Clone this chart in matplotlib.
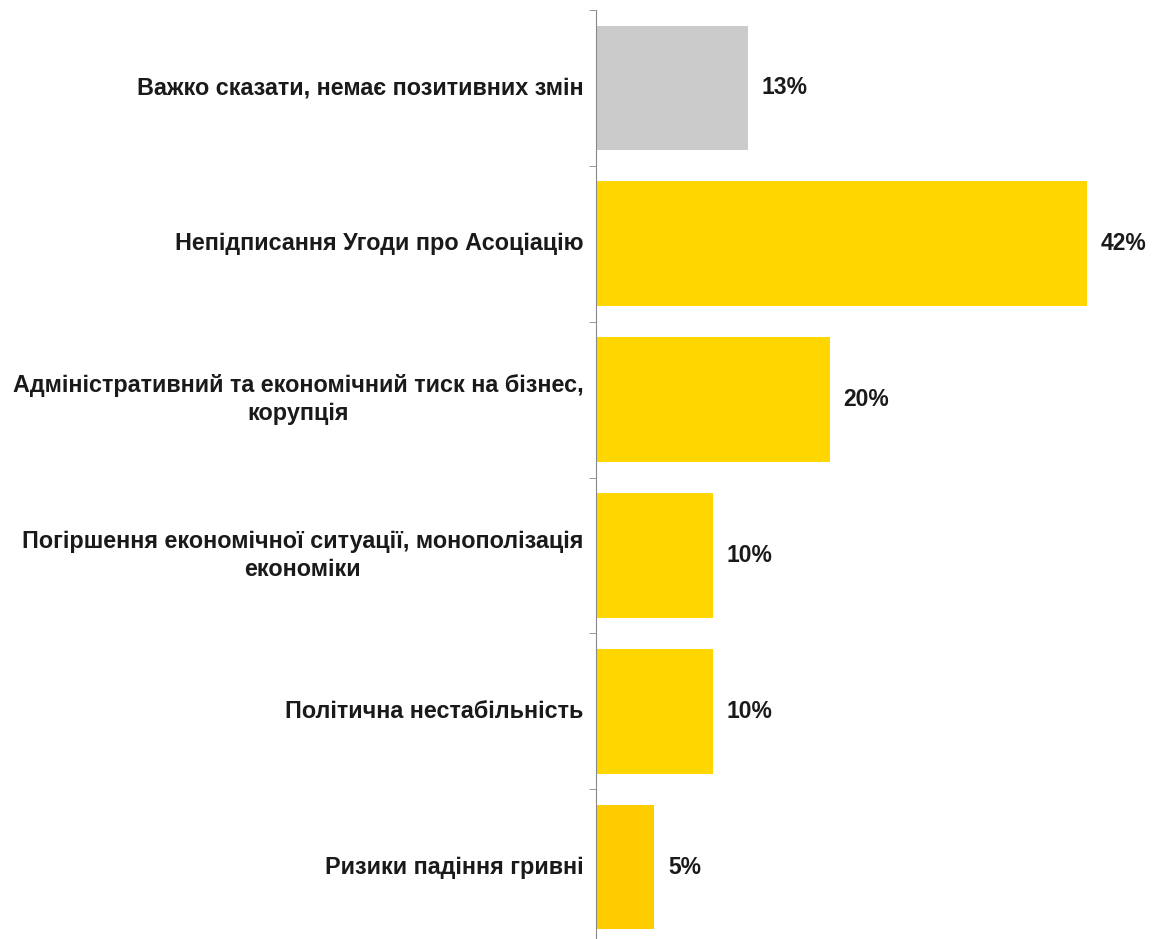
import matplotlib.pyplot as plt
from matplotlib.ticker import FixedLocator

plt.rcParams['font.family'] = ['Liberation Sans', 'DejaVu Sans']

# categories top to bottom
labels = [
    "Важко сказати, немає позитивних змін",
    "Непідписання Угоди про Асоціацію",
    "Адміністративний та економічний тиск на бізнес,\nкорупція",
    "Погіршення економічної ситуації, монополізація\nекономіки",
    "Політична нестабільність",
    "Ризики падіння гривні",
]
values = [13, 42, 20, 10, 10, 5]
colors = ["#CBCBCB", "#FFD600", "#FFD600", "#FFD600", "#FFD600", "#FFCC00"]

fig = plt.figure(figsize=(11.57, 9.39), dpi=100)
ax = fig.add_axes([596 / 1157, -6 / 939, 561 / 1157, 935 / 939])

y = list(range(len(values)))
ax.barh(y, values, height=0.8, color=colors)
ax.set_ylim(len(values) - 0.5, -0.5)
ax.set_xlim(0, 48)

for yi, v in zip(y, values):
    ax.annotate(f"{v}%", (v, yi), xytext=(10, 0), textcoords="offset points",
                va="center", ha="left", fontsize=16.5, fontweight="bold", color="#1a1a1a")

ax.yaxis.set_major_locator(FixedLocator(y))
ax.set_yticklabels([])
for yi, lab in zip(y, labels):
    ax.annotate(lab, (0, yi), xytext=(-9, 0), textcoords="offset points",
                va="center", ha="right", multialignment="center",
                fontsize=16.8, fontweight="bold", color="#1a1a1a", linespacing=1.3,
                annotation_clip=False)
ax.yaxis.set_tick_params(length=0)
ax.yaxis.set_minor_locator(FixedLocator([i - 0.5 for i in range(len(values) + 1)]))
ax.yaxis.set_tick_params(which="minor", length=5, color="#888888", direction="out")

for s in ["top", "right", "bottom"]:
    ax.spines[s].set_visible(False)
ax.spines["left"].set_color("#888888")
ax.set_xticks([])

fig.savefig("out.png", dpi=100)
